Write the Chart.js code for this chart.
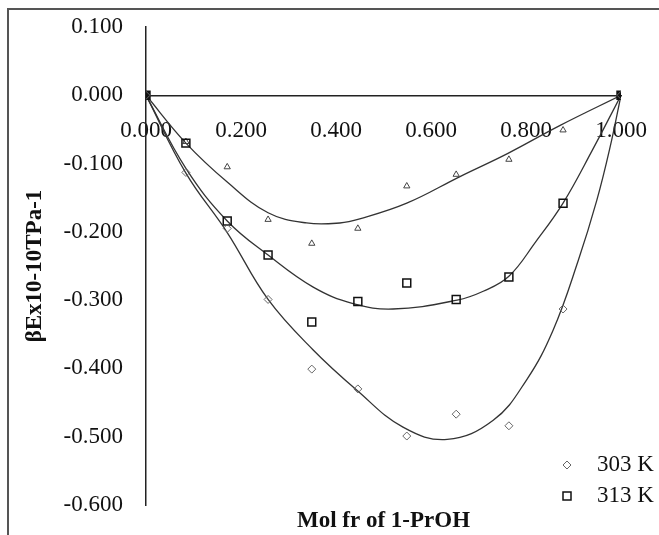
<!DOCTYPE html>
<html>
<head>
<meta charset="utf-8">
<script src="https://cdn.jsdelivr.net/npm/chart.js@4.4.0/dist/chart.umd.min.js"></script>
<style>
    html, body { margin: 0; padding: 0; background: #fff; overflow: hidden; }
    #wrap { position: relative; width: 659px; height: 535px; overflow: hidden; }
    #frame {
        position: absolute; left: 7px; top: 8px; width: 900px; height: 900px;
        border-left: 2px solid #555; border-top: 2px solid #555;
        pointer-events: none;
    }
</style>
</head>
<body>
<div id="wrap">
    <canvas id="betaChart" width="659" height="535"></canvas>
    <div id="frame"></div>
</div>
<script>
// measured points (mole fraction of 1-PrOH)
const molFr   = [0, 0.084, 0.171, 0.257, 0.349, 0.446, 0.549, 0.653, 0.764, 0.878, 1.000];
const beta303 = [0, -0.113, -0.195, -0.299, -0.401, -0.430, -0.499, -0.467, -0.484, -0.313, 0];
const beta313 = [0, -0.070, -0.184, -0.234, -0.332, -0.302, -0.275, -0.299, -0.266, -0.158, 0];
const beta323 = [0, -0.068, -0.105, -0.182, -0.217, -0.195, -0.133, -0.116, -0.094, -0.051, 0];

// trend lines
const fit303X = [0, 0.084, 0.171, 0.257, 0.352, 0.444, 0.541, 0.634, 0.731, 0.801, 0.857, 0.910, 0.949, 0.977, 1.000];
const fit303Y = [0, -0.114, -0.201, -0.299, -0.373, -0.432, -0.486, -0.504, -0.476, -0.417, -0.344, -0.242, -0.154, -0.076, 0];
const fit313X = [0, 0.084, 0.171, 0.257, 0.352, 0.436, 0.520, 0.655, 0.710, 0.764, 0.820, 0.878, 0.940, 1.000];
const fit313Y = [0, -0.107, -0.184, -0.234, -0.281, -0.305, -0.313, -0.300, -0.287, -0.265, -0.215, -0.158, -0.080, 0];
const fit323X = [0, 0.084, 0.171, 0.257, 0.338, 0.408, 0.450, 0.549, 0.661, 0.762, 0.872, 1.000];
const fit323Y = [0, -0.070, -0.127, -0.172, -0.187, -0.187, -0.181, -0.158, -0.119, -0.085, -0.044, 0];

const seriesLabels = ['303 K', '313 K', '323 K'];

const serif = 'Liberation Serif, Times New Roman, serif';
const inkColor = '#111';

function toPoints(xs, ys) {
    return xs.map((x, i) => ({ x: x, y: ys[i] }));
}

function markerSet(label, ys, style, radius, color, width, fillEnds) {
    // 两端点在原图里叠成实心黑方块
    const fills = ys.map((_, i) => (fillEnds && (i === 0 || i === ys.length - 1)) ? '#111' : 'rgba(0,0,0,0)');
    return {
        label: label,
        data: toPoints(molFr, ys),
        showLine: false,
        pointStyle: style,
        pointRadius: radius,
        pointBackgroundColor: fills,
        pointBorderColor: color,
        pointBorderWidth: width,
        order: 1
    };
}

function curveSet(xs, ys) {
    return {
        label: 'fit',
        data: toPoints(xs, ys),
        showLine: true,
        pointRadius: 0,
        borderColor: '#333',
        borderWidth: 1.3,
        tension: 0.4,
        fill: false,
        order: 2
    };
}

// 图例 (只有 303 K / 313 K)
const cornerLegend = {
    id: 'cornerLegend',
    afterDraw(chart) {
        const ctx = chart.ctx;
        ctx.save();
        const rows = [
            { text: seriesLabels[0], y: 465, draw: (x, y) => {
                ctx.strokeStyle = '#666'; ctx.lineWidth = 1;
                ctx.beginPath();
                ctx.moveTo(x, y - 4); ctx.lineTo(x + 4, y); ctx.lineTo(x, y + 4); ctx.lineTo(x - 4, y);
                ctx.closePath(); ctx.stroke();
            } },
            { text: seriesLabels[1], y: 496, draw: (x, y) => {
                ctx.strokeStyle = '#111'; ctx.lineWidth = 1.5;
                ctx.strokeRect(x - 4, y - 4, 8, 8);
            } }
        ];
        ctx.font = '23px ' + serif;
        ctx.fillStyle = inkColor;
        ctx.textBaseline = 'middle';
        ctx.textAlign = 'left';
        rows.forEach(r => {
            r.draw(567, r.y);
            ctx.fillText(r.text, 597, r.y);
        });
        ctx.restore();
    }
};

function fmt(v) {
    return Math.abs(v) < 1e-9 ? '0.000' : v.toFixed(3);
}

new Chart(document.getElementById('betaChart').getContext('2d'), {
    type: 'scatter',
    data: {
        datasets: [
            markerSet(seriesLabels[0], beta303, 'rectRot', 4, '#666', 1, false),
            markerSet(seriesLabels[1], beta313, 'rect', 5.6, '#111', 1.5, true),
            markerSet(seriesLabels[2], beta323, 'triangle', 3.6, '#444', 1, false),
            curveSet(fit303X, fit303Y),
            curveSet(fit313X, fit313Y),
            curveSet(fit323X, fit323Y)
        ]
    },
    options: {
        responsive: false,
        animation: false,
        layout: { padding: { top: 27, right: 38, bottom: 0, left: 0 } },
        plugins: {
            legend: { display: false },
            tooltip: { enabled: false }
        },
        scales: {
            x: {
                type: 'linear',
                position: { y: 0 },
                min: 0,
                max: 1,
                grid: { display: false, drawTicks: false },
                border: { display: true, color: '#222', width: 1.5 },
                ticks: {
                    stepSize: 0.2,
                    padding: 22,
                    color: inkColor,
                    font: { family: serif, size: 23 },
                    maxRotation: 0,
                    callback: fmt
                },
                afterFit: s => { s.paddingLeft = 0; s.paddingRight = 0; }
            },
            x2: {
                type: 'linear',
                position: 'bottom',
                min: 0,
                max: 1,
                grid: { display: false, drawTicks: false },
                border: { display: false },
                ticks: { display: false },
                title: {
                    display: true,
                    text: 'Mol fr of 1-PrOH',
                    color: inkColor,
                    font: { family: serif, size: 23, weight: 'bold' },
                    padding: { top: 0, bottom: 0 }
                },
                afterFit: s => { s.height = 30; s.paddingLeft = 0; s.paddingRight = 0; }
            },
            y: {
                type: 'linear',
                position: 'left',
                min: -0.6,
                max: 0.1,
                grid: { display: false, drawTicks: false },
                border: { display: true, color: '#222', width: 1.5 },
                ticks: {
                    stepSize: 0.1,
                    padding: 23,
                    color: inkColor,
                    font: { family: serif, size: 23 },
                    callback: fmt
                },
                title: {
                    display: true,
                    text: 'βEx10-10TPa-1',
                    color: inkColor,
                    font: { family: serif, size: 23, weight: 'bold' },
                    padding: { top: 21, bottom: 0 }
                },
                afterFit: s => { s.width = 146; s.paddingTop = 0; s.paddingBottom = 0; }
            }
        }
    },
    plugins: [cornerLegend]
});
</script>
</body>
</html>
